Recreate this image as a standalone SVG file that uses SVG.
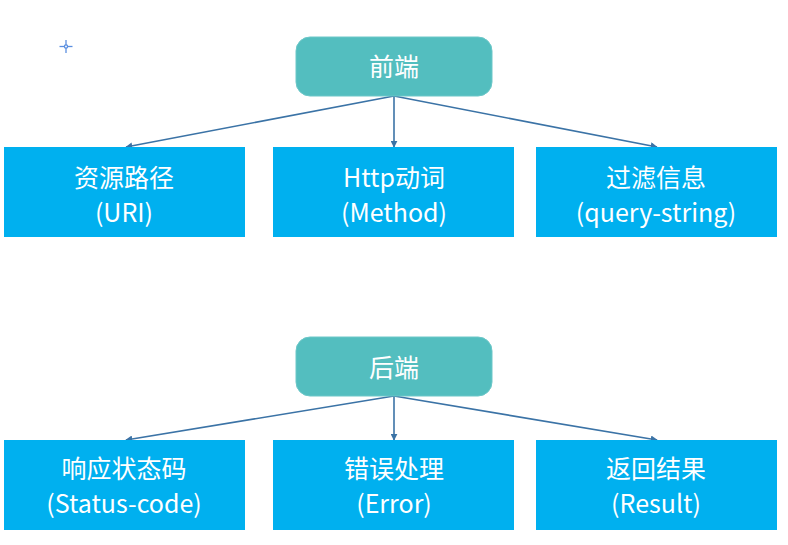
<svg xmlns="http://www.w3.org/2000/svg" width="788" height="545" viewBox="0 0 788 545">
<style>
.head{fill:#53BEBF;stroke:#6CC7C8;stroke-width:1}
.box{fill:#00B0EF}
text{font-family:"Noto Sans CJK SC","Noto Sans",sans-serif;font-size:25px;fill:#FFFFFF;text-anchor:middle}
.c{stroke:#3B73A6;stroke-width:1.6;fill:none;marker-end:url(#ah)}
</style>
<defs>
<marker id="ah" viewBox="0 0 10 10" refX="9" refY="5" markerWidth="7" markerHeight="7" markerUnits="userSpaceOnUse" orient="auto">
<path d="M0,0 L10,5 L0,10 z" fill="#3B73A6"/>
</marker>
</defs>
<g stroke="#5B8FE0" stroke-width="1.3" fill="none">
<line x1="66" y1="40" x2="66" y2="53"/>
<line x1="59.5" y1="46.5" x2="72.5" y2="46.5"/>
<circle cx="66" cy="46.5" r="1.6" fill="#FFFFFF"/>
</g>
<g id="connectors">
<line class="c" x1="394" y1="96" x2="126" y2="147"/>
<line class="c" x1="394" y1="96" x2="394" y2="147"/>
<line class="c" x1="394" y1="96" x2="657" y2="147"/>
<line class="c" x1="394" y1="396" x2="126" y2="440"/>
<line class="c" x1="394" y1="396" x2="394" y2="440"/>
<line class="c" x1="394" y1="396" x2="657" y2="440"/>
</g>
<g id="frontend"><rect class="head" x="296" y="37" width="196" height="59" rx="14"/><text x="394" y="76" font-size="26">前端</text></g>
<g id="uri"><rect class="box" x="4" y="147" width="241" height="90"/><text x="124" y="187">资源路径</text><text x="124" y="222">(URI)</text></g>
<g id="method"><rect class="box" x="273" y="147" width="241" height="90"/><text x="394" y="187">Http动词</text><text x="394" y="222">(Method)</text></g>
<g id="query"><rect class="box" x="536" y="147" width="241" height="90"/><text x="656" y="187">过滤信息</text><text x="656" y="222">(query-string)</text></g>
<g id="backend"><rect class="head" x="296" y="337" width="196" height="59" rx="14"/><text x="394" y="377" font-size="26">后端</text></g>
<g id="status"><rect class="box" x="4" y="440" width="241" height="90"/><text x="124" y="478">响应状态码</text><text x="124" y="513">(Status-code)</text></g>
<g id="error"><rect class="box" x="273" y="440" width="241" height="90"/><text x="394" y="478">错误处理</text><text x="394" y="513">(Error)</text></g>
<g id="result"><rect class="box" x="536" y="440" width="241" height="90"/><text x="656" y="478">返回结果</text><text x="656" y="513">(Result)</text></g>
</svg>
